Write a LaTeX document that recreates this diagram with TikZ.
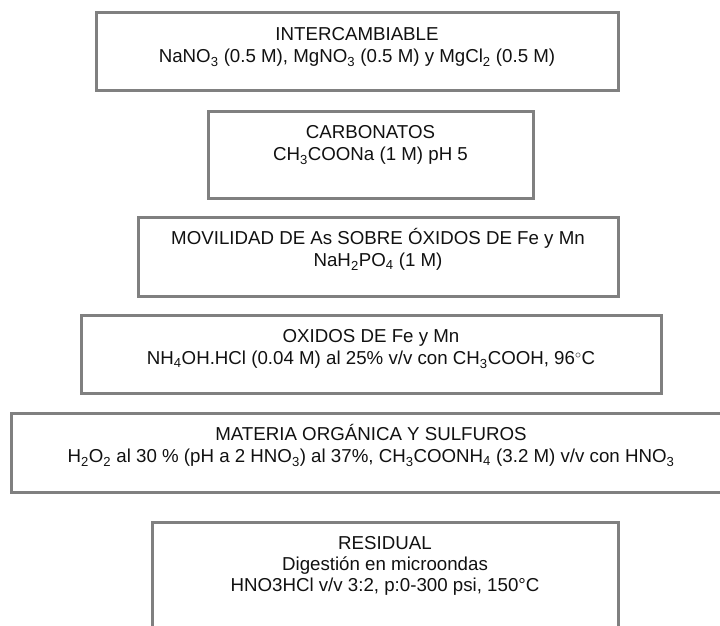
\documentclass[tikz,border=0pt]{standalone}
\usepackage{fontspec}
\setmainfont{Liberation Sans}
\usepackage{tikz}
\usetikzlibrary{positioning}
\definecolor{SecGray}{HTML}{808080}
\definecolor{SecInk}{HTML}{111111}
\newcommand{\primlinea}{\rule{0pt}{18pt}}

\begin{document}
\begin{tikzpicture}[x=1pt, y=-1pt,
    fase/.style={draw=SecGray, line width=3pt, anchor=north west,
      outer sep=0pt, inner sep=0pt},
    rotulo/.style={font=\fontsize{18.7}{22}\selectfont, text=SecInk,
      align=center, inner sep=0pt}
  ]
    \useasboundingbox (0,0) rectangle (720,626);
    \clip (0,0) rectangle (720,626);
    \node[fase, minimum width=522, minimum height=77] (inter) at (96,13) {};
    \node[fase, minimum width=325, minimum height=87] (carbon) at (208,111) {};
    \node[fase, minimum width=480, minimum height=79] (movil) at (138,217) {};
    \node[fase, minimum width=580, minimum height=78] (oxidos) at (81,315) {};
    \node[fase, minimum width=720, minimum height=79] (materia) at (11,413) {};
    \node[fase, minimum width=466, minimum height=130] (residual) at (152,522) {};
    \node[rotulo, below=9.7pt of inter.north]
      {\primlinea INTERCAMBIABLE\\NaNO\textsubscript{3} (0.5 M), MgNO\textsubscript{3} (0.5 M) y MgCl\textsubscript{2} (0.5 M)};
    \node[rotulo, below=9.7pt of carbon.north]
      {\primlinea CARBONATOS\\CH\textsubscript{3}COONa (1 M) pH 5};
    \node[rotulo, below=9.7pt of movil.north]
      {\primlinea MOVILIDAD DE As SOBRE ÓXIDOS DE Fe y Mn\\NaH\textsubscript{2}PO\textsubscript{4} (1 M)};
    \node[rotulo, below=9.7pt of oxidos.north]
      {\primlinea OXIDOS DE Fe y Mn\\NH\textsubscript{4}OH.HCl (0.04 M) al 25\% v/v con CH\textsubscript{3}COOH, 96$^{\circ}$C};
    \node[rotulo, below=9.7pt of materia.north]
      {\primlinea MATERIA ORGÁNICA Y SULFUROS\\H\textsubscript{2}O\textsubscript{2} al 30 \% (pH a 2 HNO\textsubscript{3}) al 37\%, CH\textsubscript{3}COONH\textsubscript{4} (3.2 M) v/v con HNO\textsubscript{3}};
    \node[rotulo, font=\fontsize{18.7}{21}\selectfont, below=9.7pt of residual.north]
      {\primlinea RESIDUAL\\Digestión en microondas\\HNO3HCl v/v 3:2, p:0-300 psi, 150°C};
  \end{tikzpicture}
\end{document}
